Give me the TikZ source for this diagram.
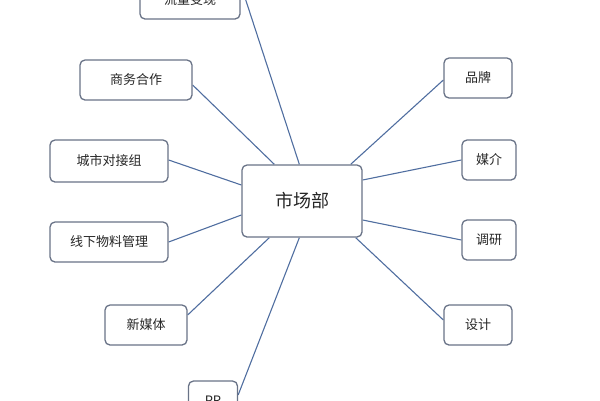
\documentclass[tikz,border=0pt]{standalone}
\usepackage{fontspec}
\newfontfamily\cjk{Noto Sans CJK SC}
\usetikzlibrary{calc,backgrounds}
\definecolor{lnc}{RGB}{80,110,160}
\definecolor{bxc}{RGB}{105,115,135}
\begin{document}
\begin{tikzpicture}[x=1pt,y=-1pt,
 box/.style={draw=bxc,line width=1.3pt,rounded corners=5pt,fill=white,font=\cjk\fontsize{13}{15}\selectfont,text=black!85},
 ln/.style={draw=lnc,line width=1.1pt}]
\useasboundingbox (0,0) rectangle (600,400);
\node[box,minimum width=120,minimum height=72,font=\cjk\fontsize{18}{21}\selectfont] (c) at (302,201) {市场部};
\node[box,minimum width=100,minimum height=38] (t) at (190,0) {流量变现};
\node[box,minimum width=112,minimum height=40] (a) at (136,80) {商务合作};
\node[box,minimum width=118,minimum height=42] (b) at (109,161) {城市对接组};
\node[box,minimum width=118,minimum height=40] (d) at (109,242) {线下物料管理};
\node[box,minimum width=82,minimum height=40] (e) at (146,325) {新媒体};
\node[box,minimum width=49,minimum height=40] (p) at (213,401) {PR};
\node[box,minimum width=68,minimum height=40] (f) at (478,78) {品牌};
\node[box,minimum width=54,minimum height=40] (g) at (489,160) {媒介};
\node[box,minimum width=54,minimum height=40] (h) at (489,240) {调研};
\node[box,minimum width=68,minimum height=40] (i) at (478,325) {设计};
\begin{scope}[on background layer]
\draw[ln] ($(t.north east)+(0,4)$) -- ($(c.north west)+(58,0)$);
\draw[ln] ($(a.east)+(0,5)$) -- ($(c.north west)+(33,0)$);
\draw[ln] ($(b.east)+(0,-1)$) -- ($(c.west)+(0,-16)$);
\draw[ln] (d.east) -- ($(c.west)+(0,14)$);
\draw[ln] ($(e.east)+(0,-10)$) -- ($(c.south west)+(28,0)$);
\draw[ln] ($(p.east)+(0,-6)$) -- ($(c.south west)+(58,0)$);
\draw[ln] ($(f.west)+(0,2)$) -- ($(c.north east)+(-12,0)$);
\draw[ln] (g.west) -- ($(c.east)+(0,-21)$);
\draw[ln] (h.west) -- ($(c.east)+(0,19)$);
\draw[ln] ($(i.west)+(0,-5)$) -- ($(c.south east)+(-7,0)$);
\end{scope}
\end{tikzpicture}
\end{document}
